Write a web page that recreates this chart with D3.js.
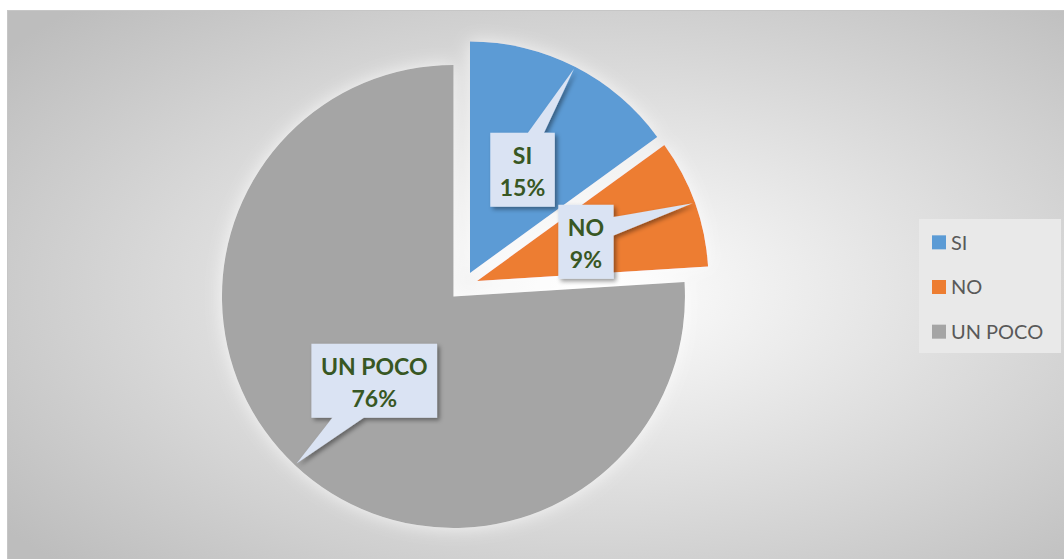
<!DOCTYPE html>
<html>
<head>
<meta charset="utf-8">
<title>SI / NO / UN POCO</title>
<script src="https://d3js.org/d3.v7.min.js"></script>
<style>
  body { margin: 0; padding: 0; background: #fff; overflow: hidden; }
  svg { display: block; }
</style>
</head>
<body>
<script>
// data
var categories = ["SI", "NO", "UN POCO"];
var values = [15, 9, 76];
var colors = ["#5b9bd5", "#ed7d31", "#a5a5a5"];

var width = 1064, height = 559;
var cx = 463.4, cy = 285.9, radius = 231.5, explode = 14.5;

var svg = d3.select("body").append("svg")
    .attr("width", width)
    .attr("height", height);

var defs = svg.append("defs");

var grad = defs.append("radialGradient")
    .attr("id", "bg")
    .attr("cx", 0.55).attr("cy", 0.5).attr("r", 0.7);
grad.append("stop").attr("offset", "0%").attr("stop-color", "#ffffff");
grad.append("stop").attr("offset", "100%").attr("stop-color", "#bdbdbd");

var glow = defs.append("filter").attr("id", "glow")
    .attr("x", "-20%").attr("y", "-20%").attr("width", "140%").attr("height", "140%");
glow.append("feGaussianBlur").attr("in", "SourceAlpha").attr("stdDeviation", 9).attr("result", "b");
glow.append("feFlood").attr("flood-color", "#ffffff").attr("flood-opacity", 0.75);
glow.append("feComposite").attr("in2", "b").attr("operator", "in").attr("result", "g");
var gm = glow.append("feMerge");
gm.append("feMergeNode").attr("in", "g");
gm.append("feMergeNode").attr("in", "SourceGraphic");

var shadow = defs.append("filter").attr("id", "shadow")
    .attr("x", "-20%").attr("y", "-20%").attr("width", "150%").attr("height", "150%");
shadow.append("feDropShadow")
    .attr("dx", 2.5).attr("dy", 2.5).attr("stdDeviation", 2)
    .attr("flood-color", "#000").attr("flood-opacity", 0.4);

// chart area
svg.append("rect")
    .attr("x", 7.5).attr("y", 10.5)
    .attr("width", width).attr("height", height)
    .attr("fill", "url(#bg)")
    .attr("stroke", "#c6c6c6");

var total = d3.sum(values);
var data = categories.map(function (c, i) { return { cat: c, value: values[i], color: colors[i] }; });

var pie = d3.pie().sort(null).value(function (d) { return d.value; });
var arcs = pie(data);

var arc = d3.arc().innerRadius(0).outerRadius(radius);
var labelArc = d3.arc().innerRadius(radius * 0.5).outerRadius(radius * 0.5);
var tipArc = d3.arc().innerRadius(radius * 0.99).outerRadius(radius * 0.99);

function offset(d) {
  var mid = (d.startAngle + d.endAngle) / 2;
  return [Math.sin(mid) * explode, -Math.cos(mid) * explode];
}

var g = svg.append("g").attr("transform", "translate(" + cx + "," + cy + ")");

var glowG = g.append("g").attr("filter", "url(#glow)");
glowG.selectAll("path.slice")
  .data(arcs)
  .enter().append("path")
    .attr("class", "slice")
    .attr("transform", function (d) { return "translate(" + offset(d) + ")"; })
    .attr("d", arc)
    .attr("fill", function (d) { return d.data.color; });

// callouts
var fmt = d3.format(".0%");
var boxH = 74, padX = 9.5;

arcs.forEach(function (d) {
  var o = offset(d);
  var c = labelArc.centroid(d), t = tipArc.centroid(d);
  var hc = c[0] + o[0], vc = c[1] + o[1];
  var tx = t[0] + o[0], ty = t[1] + o[1];

  var lg = g.append("g");
  var path = lg.append("path")
      .attr("fill", "#dae3f3")
      .attr("filter", "url(#shadow)");

  var text = lg.append("text")
      .attr("text-anchor", "middle")
      .attr("font-family", "Lato, 'Open Sans', sans-serif")
      .attr("font-weight", "bold")
      .attr("font-size", 23)
      .attr("fill", "#385723");
  var l1 = text.append("tspan").attr("x", hc).attr("y", vc - 6).text(d.data.cat);
  var l2 = text.append("tspan").attr("x", hc).attr("y", vc + 26).text(fmt(d.data.value / total));

  var w = Math.max(l1.node().getComputedTextLength(), l2.node().getComputedTextLength()) + padX * 2;
  var h = boxH;
  var l = hc - w / 2, r = hc + w / 2, top = vc - h / 2, b = vc + h / 2;

  // pointer placement like the office wedgeRectCallout
  var dx = tx - hc, dy = ty - vc;
  var dz = Math.abs(dy) - Math.abs(dx * h / w);
  var p;
  if (dz > 0) {
    var x1 = l + w * (dx > 0 ? 7 : 2) / 12, x2 = l + w * (dx > 0 ? 10 : 5) / 12;
    if (dy < 0) {
      p = [[l, top], [x1, top], [tx, ty], [x2, top], [r, top], [r, b], [l, b]];
    } else {
      p = [[l, top], [r, top], [r, b], [x2, b], [tx, ty], [x1, b], [l, b]];
    }
  } else {
    var y1 = top + h * (dy > 0 ? 7 : 2) / 12, y2 = top + h * (dy > 0 ? 10 : 5) / 12;
    if (dx > 0) {
      p = [[l, top], [r, top], [r, y1], [tx, ty], [r, y2], [r, b], [l, b]];
    } else {
      p = [[l, top], [r, top], [r, b], [l, b], [l, y2], [tx, ty], [l, y1]];
    }
  }
  path.attr("d", d3.line()(p) + "Z");
});

// legend
var legend = svg.append("g");
legend.append("rect")
    .attr("x", 919).attr("y", 219)
    .attr("width", 142).attr("height", 134)
    .attr("fill", "#e9e9e9");

var ly = d3.scaleBand().domain(categories).range([220, 354]);

var items = legend.selectAll("g.item")
  .data(data)
  .enter().append("g")
    .attr("class", "item")
    .attr("transform", function (d) { return "translate(932," + (ly(d.cat) + ly.bandwidth() / 2) + ")"; });

items.append("rect")
    .attr("x", 0).attr("y", -7)
    .attr("width", 14).attr("height", 14)
    .attr("fill", function (d) { return d.color; });

items.append("text")
    .attr("x", 19).attr("y", 0).attr("dy", "0.36em")
    .attr("font-family", "Lato, 'Open Sans', sans-serif")
    .attr("font-size", 20)
    .attr("fill", "#595959")
    .text(function (d) { return d.cat; });
</script>
</body>
</html>
